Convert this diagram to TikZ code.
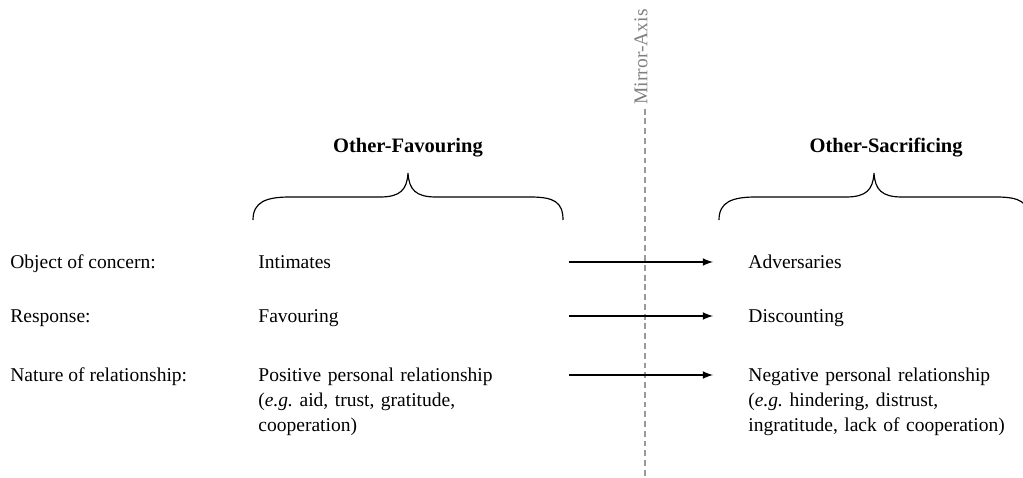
\documentclass[tikz,border=0pt]{standalone}
\usepackage{fontspec}
\setmainfont{Liberation Serif}
\usetikzlibrary{arrows,positioning}

\begin{document}
\begin{tikzpicture}[
	txt/.style={anchor=base west, inner sep=0pt, font=\fontsize{10}{12.8}\selectfont},
	mid/.style={txt, text width=5.58cm, align=left},
	right col/.style={txt, text width=5.2cm, align=left},
	head/.style={anchor=base, inner sep=0pt, font=\fontsize{10.5}{12}\selectfont\bfseries},
	brace/.style={line width=0.6pt},
	link/.style={thick, -latex, shorten >=0.63cm},
	axis/.style={black!40, line width=0.6pt, dash pattern=on 3pt off 2pt}
	]
	\clip (0,0) rectangle (18.414,8.604);
	
	% mirror axis
	\node[rotate=90, text=black!50, inner sep=2pt] (mirror) at (11.54,7.58) {Mirror-Axis};
	\coordinate (axisend) at (11.61,0);
	\draw[axis] (mirror.west -| axisend) -- (axisend);
	
	% headings and braces
	\node[head] (favour) at (7.344,5.85) {Other-Favouring};
	\node[head] (sacrifice) at (15.95,5.85) {Other-Sacrificing};
	\foreach \dx in {0,8.388}
		\draw[brace, xshift=\dx cm] (4.554,4.644) .. controls (4.554,4.968) and (4.788,5.058) .. (5.22,5.058)
			-- (6.84,5.058) .. controls (7.2,5.058) and (7.326,5.184) .. (7.344,5.49)
			.. controls (7.362,5.184) and (7.488,5.058) .. (7.848,5.058)
			-- (9.54,5.058) .. controls (9.972,5.058) and (10.134,4.968) .. (10.134,4.644);
	
	% rows
	\node[txt] (object) at (0.18,3.762) {Object of concern:};
	\node[txt] (response) at (0.18,2.79) {Response:};
	\node[txt] (nature) at (0.18,1.728) {Nature of relationship:};
	
	\node[mid] (intimates) at (4.644,3.762) {Intimates};
	\node[mid] (favouring) at (4.644,2.79) {Favouring};
	\node[mid] (positive) at (4.644,1.728) {Positive personal relationship\\(\textit{e.g.}\ aid, trust, gratitude,\\cooperation)};
	
	\node[right col] (adversaries) at (13.464,3.762) {Adversaries};
	\node[right col] (discounting) at (13.464,2.79) {Discounting};
	\node[right col] (negative) at (13.464,1.728) {Negative personal relationship\\(\textit{e.g.}\ hindering, distrust,\\ingratitude, lack of cooperation)};
	
	\draw[link] ([yshift=0.126cm]intimates.base east) -- ([yshift=0.126cm]adversaries.base west);
	\draw[link] ([yshift=0.126cm]favouring.base east) -- ([yshift=0.126cm]discounting.base west);
	\draw[link] ([yshift=0.126cm]positive.base east) -- ([yshift=0.126cm]negative.base west);
\end{tikzpicture}
\end{document}
